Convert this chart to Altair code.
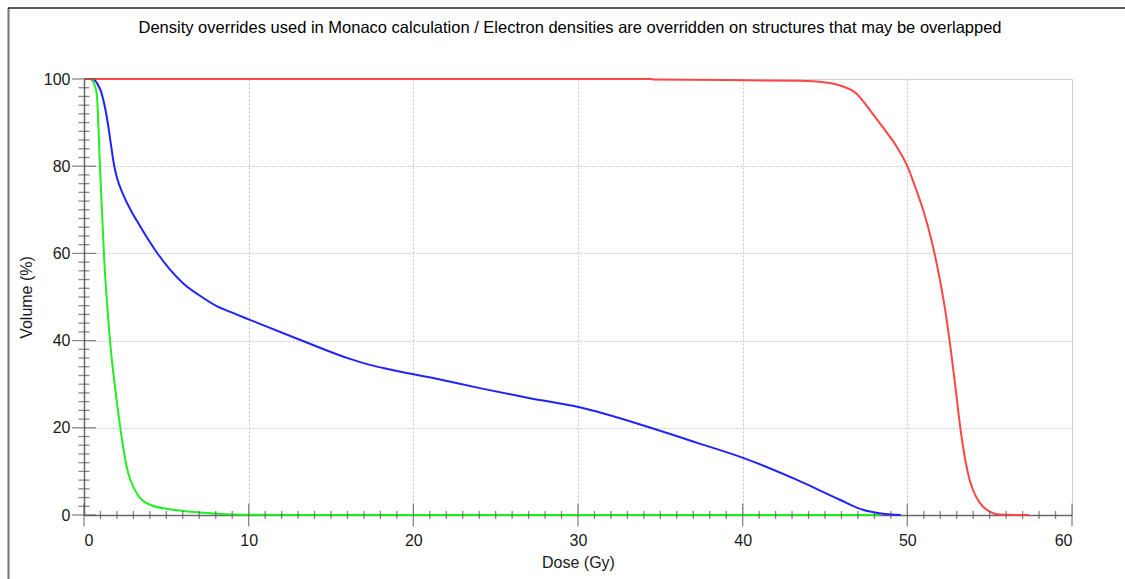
import altair as alt
import pandas as pd

TITLE = "Density overrides used in Monaco calculation / Electron densities are overridden on structures that may be overlapped"
X_TITLE = "Dose (Gy)"
Y_TITLE = "Volume (%)"

# Red structure
red_dose = [0, 34.4, 34.6, 43.5, 45.0, 46.0, 46.9, 47.7, 48.5, 49.3, 50.0, 50.5, 51.0, 51.5, 52.0,
            52.3, 52.6, 52.9, 53.2, 53.5, 53.8, 54.2, 54.6, 55.0, 55.6, 56.5, 57.4]
red_vol = [100, 100, 99.9, 99.6, 99.2, 98.4, 96.7, 93.0, 89.0, 84.8, 80.0, 75.0, 69.5, 62.5, 53.5,
           47.0, 39.0, 30.0, 20.5, 13.0, 7.8, 4.0, 1.9, 0.8, 0.1, 0.0, 0.0]

# Blue structure
blue_dose = [0, 0.5, 0.8, 1.07, 1.3, 1.48, 1.65, 1.82, 2.0, 2.4, 2.8, 3.4, 4.0, 4.5, 5.2, 6.03, 7.0,
             8.06, 9.0, 10.08, 13.1, 16.15, 17.2, 18.17, 21.2, 24.04, 27.08, 30.1, 34.17, 37.2,
             40.07, 43.27, 45.9, 47.3, 48.3, 49.0, 49.6]
blue_vol = [100, 100, 99.0, 96.7, 93.0, 89.0, 84.6, 80.4, 77.4, 73.3, 70.2, 66.3, 62.6, 59.8, 56.4,
            53.1, 50.4, 47.9, 46.4, 44.75, 40.2, 35.8, 34.6, 33.7, 31.4, 29.1, 26.8, 24.7, 20.3,
            16.6, 13.05, 8.1, 3.5, 1.2, 0.4, 0.1, 0.0]

# Green structure
green_dose = [0, 0.36, 0.6, 0.77, 0.97, 1.23, 1.58, 1.98, 2.19, 2.59, 3.2, 4.0, 5.42, 7.04, 8.66,
              10.5, 12.5, 48.3]
green_vol = [100, 100, 99.0, 96.7, 80.0, 58.5, 40.0, 26.4, 20.3, 11.1, 5.0, 2.36, 1.2, 0.6, 0.2,
             0.05, 0.0, 0.0]

x_tick_values = list(range(0, 61, 1))
y_tick_values = list(range(0, 101, 2))
x_major = list(range(0, 61, 10))
y_major = list(range(0, 101, 20))

FONT = "Liberation Sans"
TXT = "#1a1a1a"


def series(d, v):
    return pd.DataFrame({"dose": d, "volume": v, "order": list(range(len(d)))})


x_scale = alt.Scale(domain=[0, 60], nice=False, zero=False)
y_scale = alt.Scale(domain=[0, 100], nice=False, zero=False)

x_axis = alt.Axis(title=X_TITLE, values=x_major, grid=True, gridColor="#c4c4c4", gridDash=[2, 2],
                  gridWidth=1, ticks=False, tickSize=0, domain=True, domainColor="#6a6a6a",
                  domainWidth=1.5, labelFont=FONT, labelFontSize=16, labelColor=TXT,
                  labelPadding=17, titleFont=FONT, titleFontSize=16, titleFontWeight="normal",
                  titleColor=TXT, titlePadding=6)
y_axis = alt.Axis(title=Y_TITLE, values=y_major, grid=True, gridColor="#c4c4c4", gridDash=[2, 2],
                  gridWidth=1, ticks=False, tickSize=0, domain=True, domainColor="#6a6a6a",
                  domainWidth=1.5, labelFont=FONT, labelFontSize=16, labelColor=TXT,
                  labelPadding=14, titleFont=FONT, titleFontSize=16, titleFontWeight="normal",
                  titleColor=TXT, titlePadding=9)


def line(df, color):
    return alt.Chart(df).mark_line(color=color, strokeWidth=2, interpolate="monotone").encode(
        x=alt.X("dose:Q", scale=x_scale, axis=x_axis),
        y=alt.Y("volume:Q", scale=y_scale, axis=y_axis),
        order="order:Q",
    )


green = line(series(green_dose, green_vol), "#22ee22")
blue = line(series(blue_dose, blue_vol), "#2222ff")
red = line(series(red_dose, red_vol), "#ff4545")

yt = pd.DataFrame({"v": y_tick_values, "len": [24 if v in y_major else 11 for v in y_tick_values]})
xt = pd.DataFrame({"d": x_tick_values, "len": [23 if d in x_major else 8 for d in x_tick_values]})

y_ticks = alt.Chart(yt).mark_tick(orient="horizontal", color="#555555", thickness=1.3).encode(
    y=alt.Y("v:Q", scale=y_scale, axis=y_axis),
    x=alt.X(datum=0, type="quantitative", scale=x_scale, axis=x_axis),
    size=alt.Size("len:Q", scale=None, legend=None),
)
x_ticks = alt.Chart(xt).mark_tick(orient="vertical", color="#555555", thickness=1.3).encode(
    x=alt.X("d:Q", scale=x_scale, axis=x_axis),
    y=alt.Y(datum=0, type="quantitative", scale=y_scale, axis=y_axis),
    size=alt.Size("len:Q", scale=None, legend=None),
)

frame_left = alt.Chart(pd.DataFrame({"k": [0]})).mark_rule(color="#777777", strokeWidth=2).encode(
    x=alt.value(-75.5), y=alt.value(-71), y2=alt.value(500)
)
frame_top = alt.Chart(pd.DataFrame({"k": [0]})).mark_rule(color="#222222", strokeWidth=1.5).encode(
    x=alt.value(-76), x2=alt.value(1041), y=alt.value(-71)
)

chart = alt.layer(frame_left, frame_top, green, blue, red, y_ticks, x_ticks).properties(
    width=988,
    height=436,
    title=alt.TitleParams(text=TITLE, font=FONT, fontSize=16.5, fontWeight="normal", color="#000000",
                          anchor="middle", frame="group", offset=-29, dx=-8),
    autosize=alt.AutoSizeParams(type="none"),
    padding={"left": 84, "top": 79, "right": 53, "bottom": 64},
).configure_view(stroke=None).configure(background="white")

chart.save("out.html", embed_options={"renderer": "svg", "actions": False})
